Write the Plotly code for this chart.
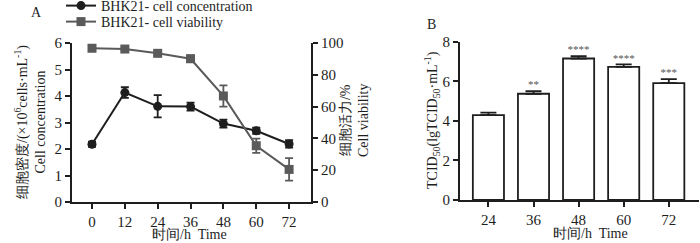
import plotly.graph_objects as go

# Panel A data
time_a = [0, 12, 24, 36, 48, 60, 72]
conc = [2.18, 4.13, 3.61, 3.60, 2.96, 2.69, 2.19]
conc_err = [0.10, 0.20, 0.42, 0.15, 0.15, 0.12, 0.14]
viab = [96.7, 96.2, 93.5, 90.1, 66.7, 35.4, 20.5]
viab_err = [0.8, 0.8, 1.2, 2.1, 6.7, 4.5, 7.1]

# Panel B data
time_b = ["24", "36", "48", "60", "72"]
tcid = [4.29, 5.37, 7.15, 6.73, 5.91]
tcid_err = [0.13, 0.13, 0.12, 0.12, 0.20]
stars = ["", "**", "****", "****", "***"]

FONT = "Liberation Serif"
W, H = 700, 243

def px_x(p):
    return p / W

def px_y(p):
    return 1 - p / H

fig = go.Figure()

fig.add_trace(go.Scatter(
    x=time_a, y=conc, name="BHK21- cell concentration",
    mode="lines+markers", line=dict(color="#1e1e1e", width=2),
    marker=dict(symbol="circle", size=9, color="#1e1e1e"),
    error_y=dict(type="data", array=conc_err, color="#1e1e1e", thickness=1.8, width=4),
    xaxis="x", yaxis="y", legend="legend"))
fig.add_trace(go.Scatter(
    x=time_a, y=viab, name="BHK21- cell viability",
    mode="lines+markers", line=dict(color="#5a5a5a", width=2),
    marker=dict(symbol="square", size=9, color="#5a5a5a"),
    error_y=dict(type="data", array=viab_err, color="#5a5a5a", thickness=1.8, width=4),
    xaxis="x", yaxis="y2", legend="legend2"))

fig.add_trace(go.Bar(
    x=list(range(len(time_b))), y=tcid, width=0.69,
    marker=dict(color="white", line=dict(color="#1e1e1e", width=1.8)),
    error_y=dict(type="data", array=tcid_err, symmetric=False, arrayminus=[0]*5,
                 color="#1e1e1e", thickness=1.8, width=8),
    showlegend=False, xaxis="x3", yaxis="y3"))
fig.add_trace(go.Scatter(
    x=list(range(len(time_b))), y=[v + e for v, e in zip(tcid, tcid_err)],
    mode="text", text=stars, textposition="top center",
    textfont=dict(family=FONT, size=11, color="#555555"),
    showlegend=False, xaxis="x3", yaxis="y3", hoverinfo="skip"))

axis_common = dict(showgrid=False, zeroline=False, showline=True, linecolor="#1e1e1e",
                   linewidth=2, ticks="outside", ticklen=5, tickwidth=2, tickcolor="#1e1e1e",
                   tickfont=dict(family=FONT, size=15, color="#1e1e1e"), automargin=False)

leg_common = dict(xanchor="left", yanchor="middle",
                  font=dict(family=FONT, size=14, color="#1e1e1e"),
                  itemwidth=30, bgcolor="rgba(0,0,0,0)")

fig.update_layout(
    width=W, height=H, margin=dict(l=0, r=0, t=0, b=0, autoexpand=False),
    paper_bgcolor="white", plot_bgcolor="white",
    font=dict(family=FONT, size=14, color="#1e1e1e"),
    xaxis=dict(axis_common, domain=[px_x(72), px_x(311)], range=[-7.3, 80],
               tickvals=time_a, anchor="y"),
    yaxis=dict(axis_common, domain=[px_y(202), px_y(43)], range=[0, 6],
               tickvals=[0, 1, 2, 3, 4, 5, 6], anchor="x"),
    yaxis2=dict(axis_common, overlaying="y", side="right", anchor="x", range=[0, 100],
                tickvals=[0, 20, 40, 60, 80, 100], ticklabelstandoff=0),
    xaxis3=dict(axis_common, domain=[px_x(460), px_x(699)], range=[-0.63, 4.67],
                tickvals=list(range(len(time_b))), ticktext=time_b, anchor="y3"),
    yaxis3=dict(axis_common, domain=[px_y(200), px_y(41.7)], range=[0, 8],
                tickvals=[0, 2, 4, 6, 8], anchor="x3"),
    legend=dict(leg_common, x=px_x(61), y=px_y(6)),
    legend2=dict(leg_common, x=px_x(61), y=px_y(22)),
)

ann = [
    dict(text="A", x=px_x(36), y=px_y(13)),
    dict(text="B", x=px_x(431), y=px_y(25)),
    dict(text="时间/h  Time", x=px_x(190), y=px_y(234)),
    dict(text="时间/h  Time", x=px_x(590), y=px_y(233)),
    dict(text="细胞密度/(×10<sup>6</sup>cells·mL<sup>-1</sup>)<br>Cell concentration",
         x=px_x(30), y=px_y(122), textangle=-90),
    dict(text="细胞活力/%<br>Cell viability", x=px_x(354), y=px_y(120), textangle=-90),
    dict(text="TCID<sub>50</sub>(lgTCID<sub>50</sub>·mL<sup>-1</sup>)",
         x=px_x(432), y=px_y(120), textangle=-90),
]
for a in ann:
    fig.add_annotation(xref="paper", yref="paper", showarrow=False,
                       xanchor="center", yanchor="middle",
                       font=dict(family=FONT, size=14, color="#1e1e1e"), **a)

fig.write_html("out.html", config={"displayModeBar": False},
               post_script="document.body.style.margin='0';document.body.style.overflow='hidden';")
